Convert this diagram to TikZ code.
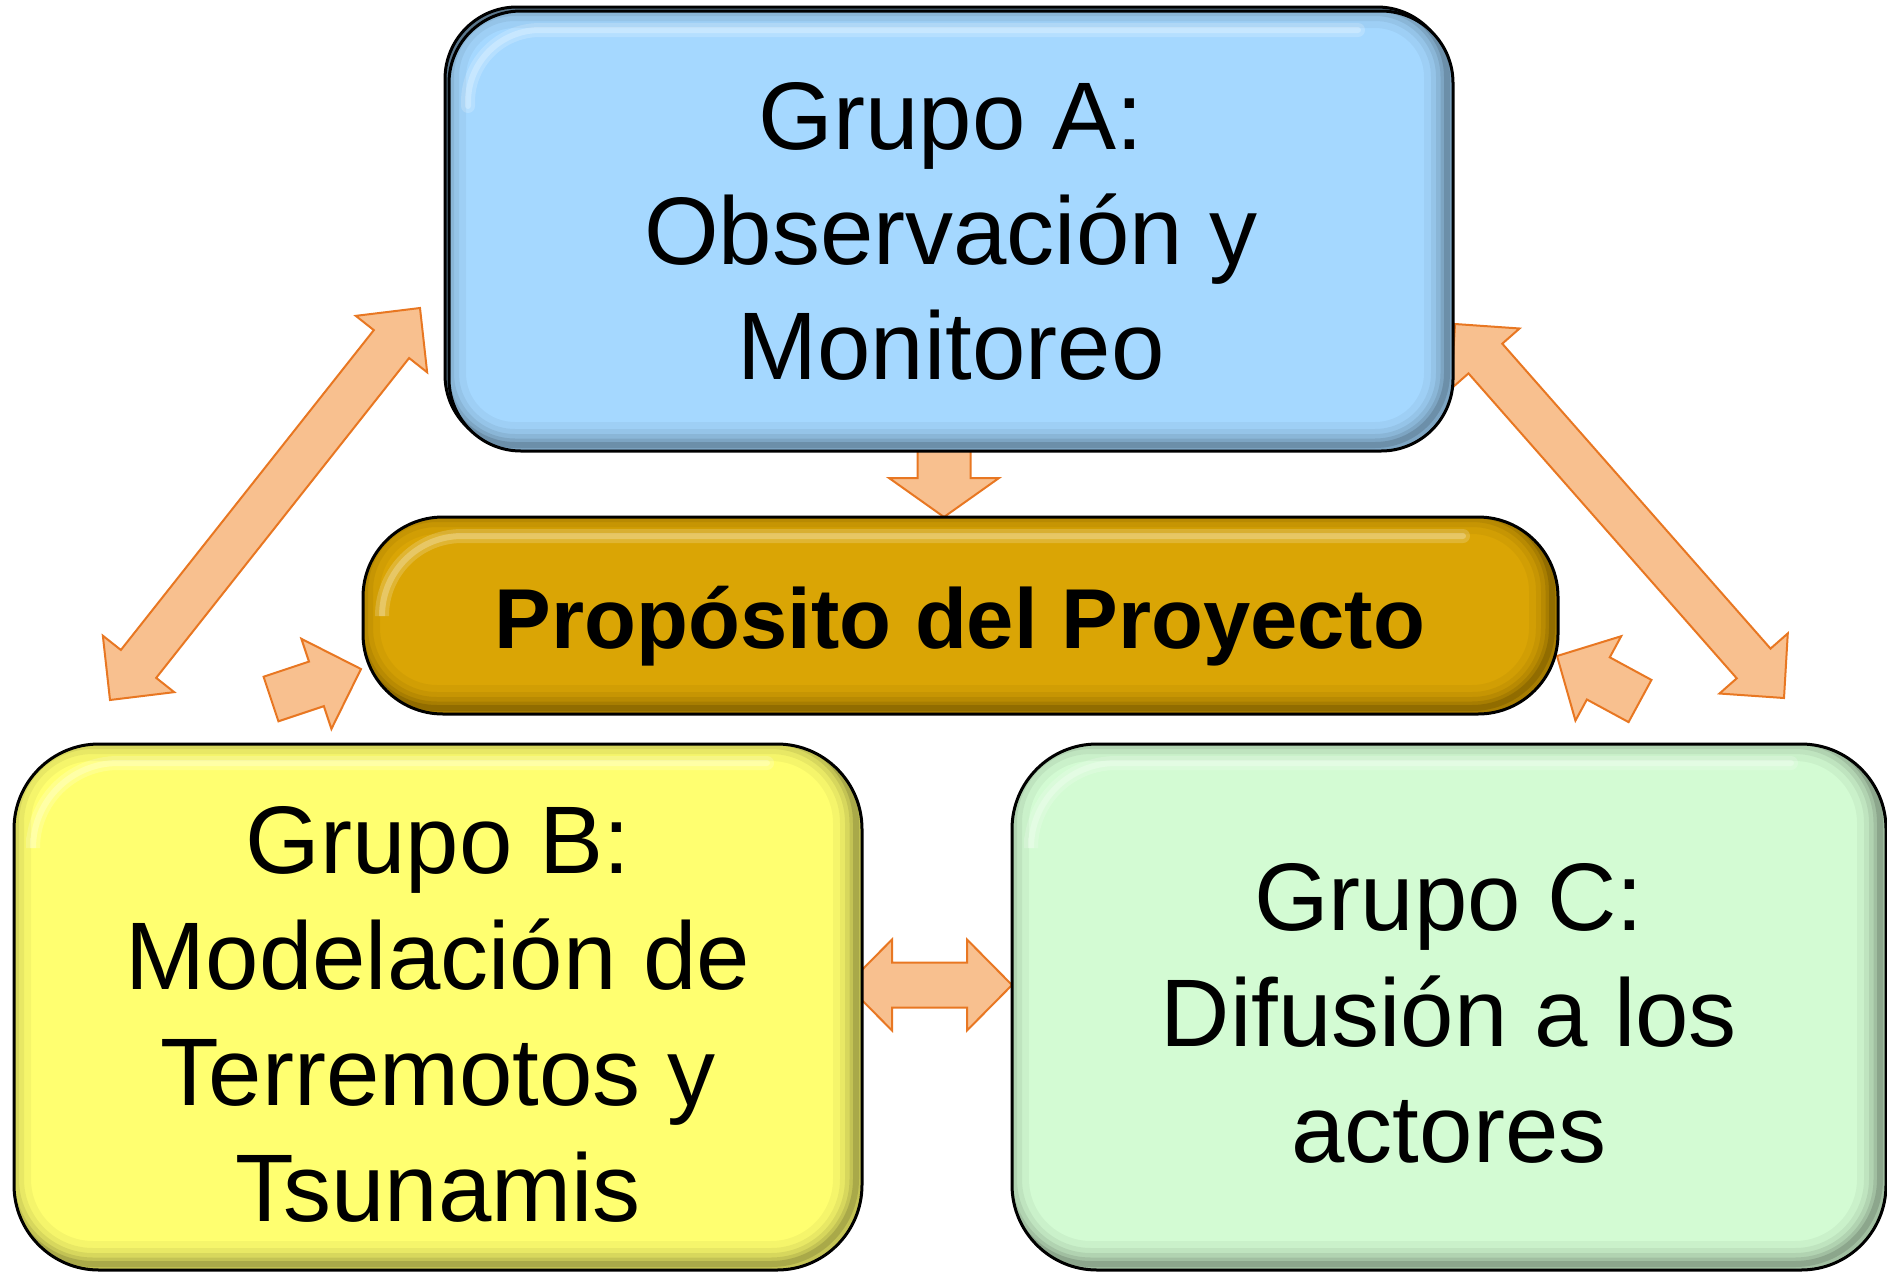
\documentclass[tikz,border=0pt]{standalone}
\usepackage{fontspec}
\setmainfont{Liberation Sans}
\usetikzlibrary{calc,backgrounds}
\definecolor{boxA}{HTML}{A5D8FF}
\definecolor{boxB}{HTML}{FFFF70}
\definecolor{boxC}{HTML}{D3FBD3}
\definecolor{goldbox}{HTML}{DAA505}
\definecolor{arrfill}{HTML}{F8C08F}
\definecolor{arrline}{HTML}{E87722}

% double block arrow: #1 tip, #2 tip, #3 head length, #4 head half width, #5 shaft half width
\newcommand\blockdouble[5]{%
 \draw[blockarr] (#1) -- ($(#1)!#3!(#2)!#4!90:(#2)$) -- ($(#1)!#3!(#2)!#5!90:(#2)$)
   -- ($(#2)!#3!(#1)!#5!-90:(#1)$) -- ($(#2)!#3!(#1)!#4!-90:(#1)$) -- (#2)
   -- ($(#2)!#3!(#1)!#4!90:(#1)$) -- ($(#2)!#3!(#1)!#5!90:(#1)$)
   -- ($(#1)!#3!(#2)!#5!-90:(#2)$) -- ($(#1)!#3!(#2)!#4!-90:(#2)$) -- cycle;}
% single block arrow: #1 tail, #2 tip
\newcommand\blocksingle[5]{%
 \draw[blockarr] ($(#1)!#5!90:(#2)$) -- ($(#2)!#3!(#1)!#5!-90:(#1)$) -- ($(#2)!#3!(#1)!#4!-90:(#1)$)
   -- (#2) -- ($(#2)!#3!(#1)!#4!90:(#1)$) -- ($(#2)!#3!(#1)!#5!90:(#1)$)
   -- ($(#1)!#5!-90:(#2)$) -- cycle;}

\tikzset{
 blockarr/.style={fill=arrfill, draw=arrline, line width=2pt, line join=miter},
 gbox/.style n args={2}{draw=black, line width=3pt, rounded corners=#2, fill=#1,
   inner sep=0pt, outer sep=0pt, align=center, text=black,
   path picture={
     \foreach \w/\o in {46/0.04,32/0.05,22/0.07,13/0.09,6/0.13}{
       \draw[line width=\w pt, black, opacity=\o, rounded corners=#2]
         ([shift={(-6,-6)}]path picture bounding box.south west) rectangle
         ([shift={(-6,-6)}]path picture bounding box.north east);
     }
     \foreach \w/\o in {14/0.18,6/0.25}{
     \draw[white, opacity=\o, line width=\w pt, line cap=round, rounded corners=#2]
       ([shift={(19,95)}]path picture bounding box.north west) --
       ([shift={(19,19)}]path picture bounding box.north west) --
       ([shift={(-95,19)}]path picture bounding box.north east);
     }
   }},
 gtext/.style={font=\fontsize{96}{116}\selectfont, align=center, inner sep=0pt, text=black},
}

\begin{document}
\begin{tikzpicture}[x=1pt,y=-1pt]
\useasboundingbox (0,0) rectangle (1887,1272);

% back layer of box A (3D edge)
\draw[fill=boxA!55!black, draw=black, line width=3pt, rounded corners=72pt] (445,7) rectangle (1449,447);

\node[gbox={boxA}{72pt}, minimum width=1004pt, minimum height=440pt,
      font=\fontsize{96}{115}\selectfont] (A) at (951,231) {Grupo A:\\Observación y\\Monitoreo};
\node[gbox={goldbox}{80pt}, minimum width=1195pt, minimum height=197pt] (P) at (960.5,615.5) {};
\node[font=\fontsize{85}{100}\selectfont\bfseries, inner sep=0pt, text=black] (Pt) at (960,626) {Propósito del Proyecto};
\node[gbox={boxB}{85pt}, minimum width=848pt, minimum height=526pt] (B) at (438,1007) {};
\node[gtext] (Bt) at (438,1014) {Grupo B:\\Modelación de\\Terremotos y\\Tsunamis};
\node[gbox={boxC}{85pt}, minimum width=874pt, minimum height=526pt] (C) at (1449,1007) {};
\node[gtext] (Ct) at (1449,1013) {Grupo C:\\Difusión a los\\actores};

% arrow end points
\coordinate (l1) at (110,700);
\coordinate (l2) at (420,308);
\coordinate (r1) at (1455,324);
\coordinate (r2) at (1784,698);
\coordinate (dt) at (944,440);
\coordinate (dh) at (944,517);
\coordinate (h1) at (847,985);
\coordinate (h2) at (1012,985);
\coordinate (sl1) at (271,699);
\coordinate (sl2) at (361,669);
\coordinate (sr1) at (1640,701);
\coordinate (sr2) at (1557,656);

\begin{scope}[on background layer]
\blockdouble{l1}{l2}{46pt}{45.5pt}{22.5pt}
\blockdouble{r1}{r2}{46pt}{45.5pt}{22.5pt}
\blocksingle{dt}{dh}{39pt}{55pt}{26.5pt}
\blockdouble{h1}{h2}{45pt}{45.5pt}{22.5pt}
\blocksingle{sl1}{sl2}{47pt}{47.5pt}{23.5pt}
\blocksingle{sr1}{sr2}{47pt}{48pt}{24pt}
\end{scope}
\end{tikzpicture}
\end{document}
